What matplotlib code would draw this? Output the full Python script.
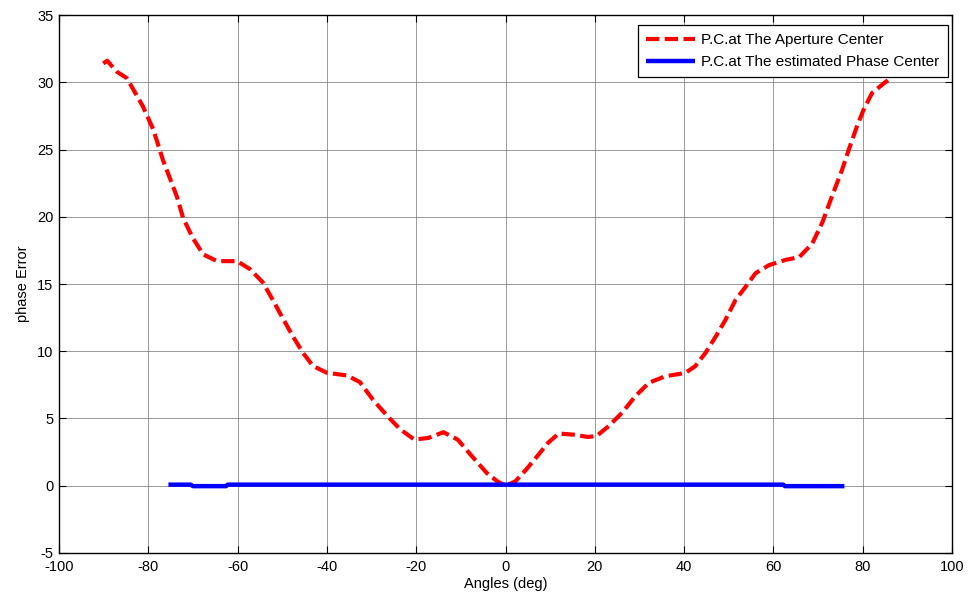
import matplotlib
matplotlib.use("Agg")
import matplotlib.pyplot as plt

plt.rcParams['font.family'] = ['Liberation Sans', 'DejaVu Sans']
plt.rcParams['axes.unicode_minus'] = False

# Red dashed series: phase centre at the aperture centre
red_x = [-90.1, -89.2, -87.1, -84.8, -81.2, -78.9, -76.7, -73.6, -72.2, -70.0,
         -67.7, -64.6, -60.1, -57.2, -54.3, -52.1, -49.8, -47.6, -45.4, -43.1,
         -40.0, -35.5, -32.6, -29.7, -26.5, -23.6, -20.4, -17.2, -13.9, -10.7,
         -7.5, -4.2, -1.8, 0.0, 2.2, 4.6, 7.1, 9.5, 11.9, 15.2,
         18.4, 20.4, 23.1, 26.1, 29.1, 32.1, 35.8, 40.3, 42.5, 44.8,
         47.1, 49.3, 51.5, 53.8, 56.0, 59.0, 62.8, 65.8, 68.7, 71.0,
         73.1, 75.4, 76.9, 78.7, 80.2, 82.1, 84.3, 86.6, 89.0, 90.0]
red_y = [31.4, 31.6, 30.8, 30.3, 28.2, 26.5, 24.2, 21.5, 19.9, 18.4,
         17.2, 16.7, 16.7, 16.1, 15.1, 13.8, 12.4, 11.1, 9.9, 8.9,
         8.4, 8.2, 7.7, 6.4, 5.2, 4.2, 3.43, 3.56, 3.98, 3.43,
         2.19, 0.95, 0.32, 0.0, 0.32, 1.19, 2.19, 3.18, 3.88, 3.8,
         3.63, 3.69, 4.43, 5.42, 6.66, 7.65, 8.14, 8.39, 8.89, 9.88,
         11.1, 12.35, 13.8, 14.8, 15.8, 16.4, 16.8, 17.0, 18.0, 19.6,
         21.5, 23.5, 25.0, 26.7, 27.95, 29.2, 29.8, 30.4, 31.2, 31.5]

# Blue solid series: phase centre at the estimated phase centre
blue_x = [-75.5, -70.5, -70.0, -62.6, -62.2, 62.2, 62.6, 75.9]
blue_y = [0.08, 0.08, -0.03, -0.03, 0.08, 0.08, -0.03, -0.03]

label_red = 'P.C.at The Aperture Center'
label_blue = 'P.C.at The estimated Phase Center'
x_ticks = [-100, -80, -60, -40, -20, 0, 20, 40, 60, 80, 100]
y_ticks = [-5, 0, 5, 10, 15, 20, 25, 30, 35]

fig = plt.figure(figsize=(9.71, 6.01), dpi=100)
ax = fig.add_axes([0.0608, 0.0799, 0.9196, 0.8951])

ax.plot(red_x, red_y, color='#ff0000', lw=3.0, linestyle=(0, (3.2, 1.3)),
        label=label_red, zorder=3)
ax.plot(blue_x, blue_y, color='#0000ff', lw=3.2, label=label_blue,
        solid_capstyle='butt', zorder=3)

ax.set_xlim(-100, 100)
ax.set_ylim(-5, 35)
ax.set_xticks(x_ticks)
ax.set_yticks(y_ticks)
ax.tick_params(direction='in', top=True, right=True, labelsize=10.5,
               length=5, width=0.8, colors='black')
ax.tick_params(axis='x', pad=5)
ax.tick_params(axis='y', pad=4)
ax.grid(True, color='#808080', lw=0.7, linestyle='-', alpha=0.8)
ax.set_axisbelow(True)
for s in ax.spines.values():
    s.set_linewidth(1.0)
    s.set_color('black')

ax.set_xlabel('Angles (deg)', fontsize=10.5, labelpad=2)
ax.set_ylabel('phase Error', fontsize=10.5, labelpad=5)

leg = ax.legend(loc='upper right', bbox_to_anchor=(0.9955, 0.9814),
                fontsize=11, fancybox=False, framealpha=1.0,
                edgecolor='black', handlelength=3.2, borderaxespad=0.0,
                labelspacing=0.5, handletextpad=0.4, borderpad=0.55)
leg.get_frame().set_linewidth(0.9)
leg.set_zorder(5)

fig.savefig('out.png', dpi=100)
